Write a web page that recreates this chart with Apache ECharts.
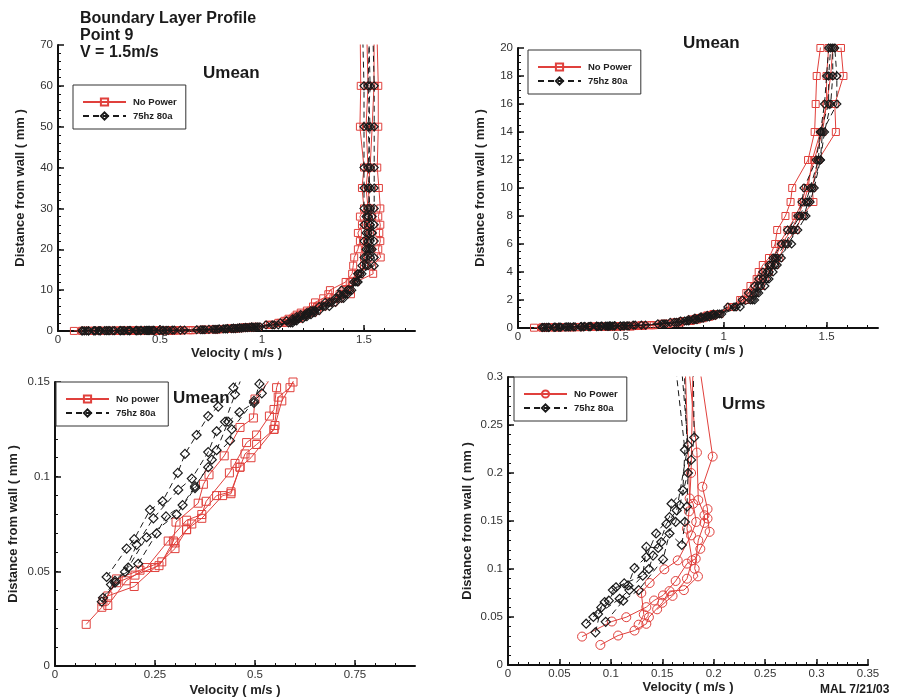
<!DOCTYPE html>
<html><head><meta charset="utf-8">
<script src="https://cdn.jsdelivr.net/npm/echarts@6/dist/echarts.min.js"></script>
<style>html,body{margin:0;padding:0;background:#fff}#c{width:900px;height:698px}</style>
</head><body><div id="c"></div>
<script>
// ---------- DATA ----------
// Umean profiles: near-wall points [U (m/s), y (mm)]
const noPowerNear = [
  [[0.078,0.022],[0.117,0.031],[0.154,0.046],[0.2125,0.0506],[0.267,0.055],[0.296,0.066],[0.3025,0.076],[0.358,0.086],[0.371,0.096],[0.385,0.101],[0.423,0.111],[0.4625,0.126],[0.496,0.131],[0.500,0.141],[0.54,0.152]],
  [[0.132,0.032],[0.178,0.045],[0.229,0.052],[0.283,0.066],[0.329,0.077],[0.367,0.080],[0.378,0.087],[0.436,0.102],[0.450,0.107],[0.479,0.118],[0.504,0.122],[0.536,0.132],[0.5475,0.1355],[0.554,0.147],[0.57,0.158]],
  [[0.132,0.037],[0.198,0.042],[0.250,0.052],[0.300,0.062],[0.329,0.072],[0.342,0.075],[0.404,0.090],[0.440,0.092],[0.4625,0.105],[0.475,0.112],[0.504,0.117],[0.5475,0.125],[0.558,0.142],[0.5875,0.147],[0.61,0.156]],
  [[0.12,0.034],[0.154,0.044],[0.20,0.048],[0.26,0.053],[0.30,0.065],[0.329,0.072],[0.367,0.078],[0.419,0.090],[0.44,0.091],[0.4625,0.105],[0.49,0.110],[0.5475,0.125],[0.55,0.127],[0.567,0.140],[0.595,0.150]]
];
const poweredNear = [
  [[0.129,0.047],[0.179,0.062],[0.198,0.067],[0.2375,0.0825],[0.269,0.087],[0.307,0.102],[0.325,0.112],[0.354,0.122],[0.383,0.132],[0.408,0.137],[0.446,0.147],[0.47,0.158]],
  [[0.117,0.034],[0.15,0.044],[0.175,0.0497],[0.204,0.064],[0.246,0.078],[0.308,0.093],[0.342,0.099],[0.383,0.113],[0.404,0.124],[0.425,0.129],[0.45,0.1435],[0.47,0.154]],
  [[0.12,0.036],[0.15,0.045],[0.208,0.054],[0.254,0.070],[0.2775,0.079],[0.319,0.085],[0.35,0.095],[0.383,0.105],[0.404,0.114],[0.433,0.129],[0.461,0.134],[0.4975,0.139],[0.511,0.149],[0.53,0.158]],
  [[0.14,0.043],[0.183,0.052],[0.229,0.068],[0.304,0.080],[0.35,0.094],[0.392,0.109],[0.4375,0.119],[0.442,0.125],[0.4975,0.140],[0.517,0.144],[0.54,0.155]]
];
// outer-region y levels (mm) and U at each level per run
const yOuter = [0.2,0.3,0.4,0.5,0.6,0.7,0.8,0.9,1.0,1.5,2,2.5,3,3.5,4,4.5,5,6,7,8,9,10,12,14,16,18,20,22,24,26,28,30,35,40,50,60,80];
const noPowerOuter = [
  [0.60,0.70,0.76,0.80,0.84,0.87,0.90,0.92,0.95,1.03,1.08,1.11,1.13,1.16,1.17,1.19,1.22,1.25,1.26,1.30,1.325,1.333,1.41,1.442,1.447,1.452,1.47,1.48,1.47,1.49,1.48,1.50,1.49,1.50,1.48,1.484,1.48],
  [0.65,0.73,0.79,0.84,0.87,0.90,0.93,0.95,0.98,1.05,1.12,1.15,1.18,1.20,1.22,1.25,1.27,1.30,1.35,1.38,1.436,1.43,1.46,1.545,1.54,1.582,1.57,1.58,1.575,1.58,1.57,1.58,1.573,1.565,1.57,1.57,1.56],
  [0.66,0.71,0.78,0.82,0.86,0.89,0.92,0.94,0.97,1.04,1.10,1.13,1.15,1.18,1.20,1.23,1.25,1.28,1.33,1.36,1.39,1.41,1.43,1.47,1.50,1.50,1.51,1.50,1.52,1.51,1.52,1.52,1.51,1.52,1.51,1.52,1.51],
  [0.64,0.72,0.77,0.82,0.85,0.88,0.91,0.94,0.96,1.04,1.09,1.12,1.15,1.17,1.19,1.22,1.24,1.27,1.31,1.35,1.38,1.40,1.44,1.48,1.50,1.52,1.53,1.52,1.53,1.52,1.54,1.53,1.52,1.53,1.54,1.549,1.55]
];
const poweredOuter = [
  [0.56,0.68,0.74,0.79,0.83,0.86,0.89,0.92,0.95,1.02,1.09,1.12,1.15,1.17,1.19,1.22,1.24,1.28,1.31,1.36,1.38,1.39,1.45,1.47,1.49,1.50,1.51,1.50,1.51,1.50,1.51,1.50,1.50,1.50,1.50,1.50,1.49],
  [0.57,0.70,0.76,0.81,0.85,0.88,0.91,0.94,0.97,1.05,1.13,1.15,1.17,1.19,1.21,1.23,1.25,1.30,1.33,1.37,1.40,1.42,1.46,1.47,1.51,1.51,1.52,1.53,1.52,1.53,1.52,1.52,1.53,1.52,1.53,1.52,1.53],
  [0.60,0.71,0.77,0.82,0.86,0.89,0.92,0.95,0.98,1.06,1.14,1.16,1.18,1.21,1.22,1.25,1.26,1.33,1.34,1.39,1.41,1.43,1.47,1.48,1.55,1.55,1.54,1.55,1.54,1.55,1.54,1.55,1.55,1.55,1.55,1.55,1.54],
  [0.62,0.72,0.78,0.83,0.87,0.90,0.93,0.96,0.99,1.08,1.15,1.17,1.20,1.22,1.24,1.26,1.28,1.31,1.36,1.40,1.42,1.44,1.47,1.49,1.52,1.53,1.53,1.52,1.54,1.53,1.52,1.53,1.52,1.53,1.52,1.53,1.52]
];
// Urms profiles [Urms (m/s), y (mm)]
const rmsNoPower = [
  [[0.072,0.0296],[0.101,0.0453],[0.115,0.0498],[0.1345,0.0603],[0.142,0.0672],[0.1507,0.0725],[0.163,0.0875],[0.174,0.1056],[0.1825,0.1108],[0.187,0.121],[0.196,0.1387],[0.194,0.1526],[0.194,0.1624],[0.189,0.1857],[0.199,0.2171],[0.185,0.32]],
  [[0.0898,0.0209],[0.107,0.0307],[0.123,0.0359],[0.1345,0.0429],[0.137,0.0498],[0.150,0.0648],[0.157,0.077],[0.171,0.078],[0.1847,0.0923],[0.1815,0.1003],[0.185,0.130],[0.191,0.148],[0.191,0.156],[0.185,0.1718],[0.1837,0.2213],[0.175,0.32]],
  [[0.127,0.042],[0.132,0.0526],[0.1296,0.075],[0.1377,0.0854],[0.152,0.0997],[0.165,0.109],[0.178,0.135],[0.183,0.149],[0.180,0.168],[0.1766,0.1735],[0.172,0.32]],
  [[0.145,0.058],[0.160,0.072],[0.174,0.0899],[0.179,0.109],[0.174,0.142],[0.176,0.160],[0.178,0.20],[0.180,0.32]]
];
const rmsPowered = [
  [[0.085,0.034],[0.0907,0.060],[0.098,0.067],[0.105,0.081],[0.1167,0.083],[0.123,0.101],[0.1345,0.1125],[0.144,0.137],[0.157,0.154],[0.159,0.168],[0.170,0.182],[0.172,0.224],[0.162,0.32]],
  [[0.076,0.043],[0.083,0.050],[0.094,0.0655],[0.102,0.078],[0.113,0.085],[0.131,0.093],[0.1345,0.123],[0.146,0.122],[0.154,0.147],[0.164,0.161],[0.175,0.229],[0.168,0.32]],
  [[0.0875,0.053],[0.1085,0.069],[0.118,0.078],[0.137,0.100],[0.141,0.114],[0.149,0.128],[0.163,0.149],[0.167,0.1665],[0.178,0.2136],[0.181,0.237],[0.180,0.32]],
  [[0.095,0.045],[0.112,0.067],[0.127,0.078],[0.1507,0.110],[0.157,0.137],[0.169,0.125],[0.172,0.149],[0.174,0.165],[0.175,0.20],[0.171,0.32]]
];
// tick labels
const xTicksTop = [0,0.5,1,1.5];
const yTicksP1 = [0,10,20,30,40,50,60,70];
const yTicksP2 = [0,2,4,6,8,10,12,14,16,18,20];
const xTicksP3 = [0,0.25,0.5,0.75];
const yTicksP3 = [0,0.05,0.1,0.15];
const xTicksP4 = [0,0.05,0.1,0.15,0.2,0.25,0.3,0.35];
const yTicksP4 = [0,0.05,0.1,0.15,0.2,0.25,0.3];
const legendNames = [['No Power','75hz 80a'],['No Power','75hz 80a'],['No power','75hz 80a'],['No Power','75hz 80a']];

// ---------- BUILD ----------
const FONT = '"Liberation Sans", Arial, Helvetica, sans-serif';
const RED = '#e0403c', BLK = '#1a1a1a';
function steps(max, step){ const a=[]; for(let i=1; i*step < max-1e-9; i++) a.push(+(i*step).toFixed(6)); return a; }
function profile(near, outer){ return near.concat(yOuter.map((y,i)=>[outer[i], y])); }
const meanNP = noPowerNear.map((n,i)=>profile(n, noPowerOuter[i]));
const meanPW = poweredNear.map((n,i)=>profile(n, poweredOuter[i]));

const panels = [
  {grid:{left:58,top:45,width:357,height:286}, xMax:1.75, yMax:70, xT:xTicksTop, yT:yTicksP1, xMin:0.1, yMin:2, xGap:2, yGap:31,
   red:meanNP, blk:meanPW, redSym:'rect', redSize:7, blkSize:8, legend:{left:73,top:85}},
  {grid:{left:518,top:48,width:360,height:280}, xMax:1.75, yMax:20, xT:xTicksTop, yT:yTicksP2, xMin:0.1, yMin:0.5, xGap:2, yGap:31,
   red:meanNP, blk:meanPW, redSym:'rect', redSize:7, blkSize:8, legend:{left:528,top:50}},
  {grid:{left:55,top:382,width:360,height:286}, xMax:0.9, yMax:0.15, xT:xTicksP3, yT:yTicksP3, xMin:0.05, yMin:0.01, xGap:5, yGap:35,
   red:meanNP, blk:meanPW, redSym:'rect', redSize:8, blkSize:9, legend:{left:56,top:382}},
  {grid:{left:508,top:377,width:360,height:288}, xMax:0.35, yMax:0.3, xT:xTicksP4, yT:yTicksP4, xMin:0.01, yMin:0.01, xGap:1, yGap:34,
   red:rmsNoPower, blk:rmsPowered, redSym:'circle', redSize:9, blkSize:9, legend:{left:514,top:377}}
];

const grid=[], xAxis=[], yAxis=[], series=[], legend=[];
const labelStyle = {color:'#333', fontSize:11.5, fontFamily:FONT};
const nameStyle = {color:'#222', fontSize:13, fontWeight:'bold', fontFamily:FONT};
panels.forEach((p, k)=>{
  grid.push(Object.assign({containLabel:false}, p.grid));
  xAxis.push({type:'value', gridIndex:k, position:'bottom', min:0, max:p.xMax,
    name:'Velocity ( m/s )', nameLocation:'middle', nameGap:p.xGap+13, nameTextStyle:nameStyle,
    axisLine:{onZero:false, lineStyle:{color:'#111', width:2}},
    axisTick:{inside:true, length:6, customValues:p.xT, lineStyle:{color:'#111', width:1.5}},
    axisLabel:{customValues:p.xT, margin:3, ...labelStyle, formatter:v=>String(v)},
    splitLine:{show:false}});
  xAxis.push({type:'value', gridIndex:k, position:'bottom', min:0, max:p.xMax,
    axisLine:{show:false, onZero:false}, axisLabel:{show:false}, splitLine:{show:false},
    axisTick:{inside:true, length:3, customValues:steps(p.xMax, p.xMin), lineStyle:{color:'#111', width:1}}});
  yAxis.push({type:'value', gridIndex:k, position:'left', min:0, max:p.yMax,
    name:'Distance from wall ( mm )', nameLocation:'middle', nameGap:p.yGap, nameRotate:90, nameTextStyle:nameStyle,
    axisLine:{onZero:false, lineStyle:{color:'#111', width:2}},
    axisTick:{inside:true, length:6, customValues:p.yT, lineStyle:{color:'#111', width:1.5}},
    axisLabel:{customValues:p.yT, margin:5, ...labelStyle, formatter:v=>String(v)},
    splitLine:{show:false}});
  yAxis.push({type:'value', gridIndex:k, position:'left', min:0, max:p.yMax,
    axisLine:{show:false, onZero:false}, axisLabel:{show:false}, splitLine:{show:false},
    axisTick:{inside:true, length:3, customValues:steps(p.yMax, p.yMin), lineStyle:{color:'#111', width:1}}});
  const nmR = k+'|'+legendNames[k][0], nmB = k+'|'+legendNames[k][1];
  p.red.forEach(d=>series.push({type:'line', name:nmR, xAxisIndex:2*k, yAxisIndex:2*k, data:d, clip:true,
    symbol:p.redSym, symbolSize:p.redSize, showAllSymbol:true,
    lineStyle:{color:RED, width:1}, itemStyle:{color:'rgba(255,255,255,0)', borderColor:RED, borderWidth:1}, z:2}));
  p.blk.forEach(d=>series.push({type:'line', name:nmB, xAxisIndex:2*k, yAxisIndex:2*k, data:d, clip:true,
    symbol:'diamond', symbolSize:p.blkSize, showAllSymbol:true,
    lineStyle:{color:BLK, width:1, type:[6,4]}, itemStyle:{color:'rgba(255,255,255,0)', borderColor:BLK, borderWidth:1.2}, z:3}));
  legend.push({left:p.legend.left, top:p.legend.top, orient:'vertical', data:[nmR, nmB],
    formatter:n=>n.split('|')[1], selectedMode:false, backgroundColor:'#fff', borderColor:'#333', borderWidth:1,
    padding:[12,9,8,9], itemGap:4, itemWidth:43, itemHeight:9, zlevel:0, z:10,
    textStyle:{fontSize:9.5, fontWeight:'bold', color:'#222', fontFamily:FONT, padding:[0,0,0,2]}});
});

const txt = (t,l,tp,size)=>({type:'text', left:l, top:tp, z:20, style:{text:t, font:'bold '+size+'px '+FONT, fill:'#1a1a1a'}});
const graphic = [
  txt('Boundary Layer Profile',80,11,16), txt('Point 9',80,28,16), txt('V = 1.5m/s',80,45,16),
  txt('Umean',203,65,17), txt('Umean',683,35,17), txt('Umean',173,390,17), txt('Urms',722,396,17),
  txt('MAL 7/21/03',820,684,12)
];

const chart = echarts.init(document.getElementById('c'), null, {renderer:'canvas'});
chart.setOption({animation:false, backgroundColor:'#fff', grid, xAxis, yAxis, series, legend, graphic,
  textStyle:{fontFamily:FONT}});
</script></body></html>
